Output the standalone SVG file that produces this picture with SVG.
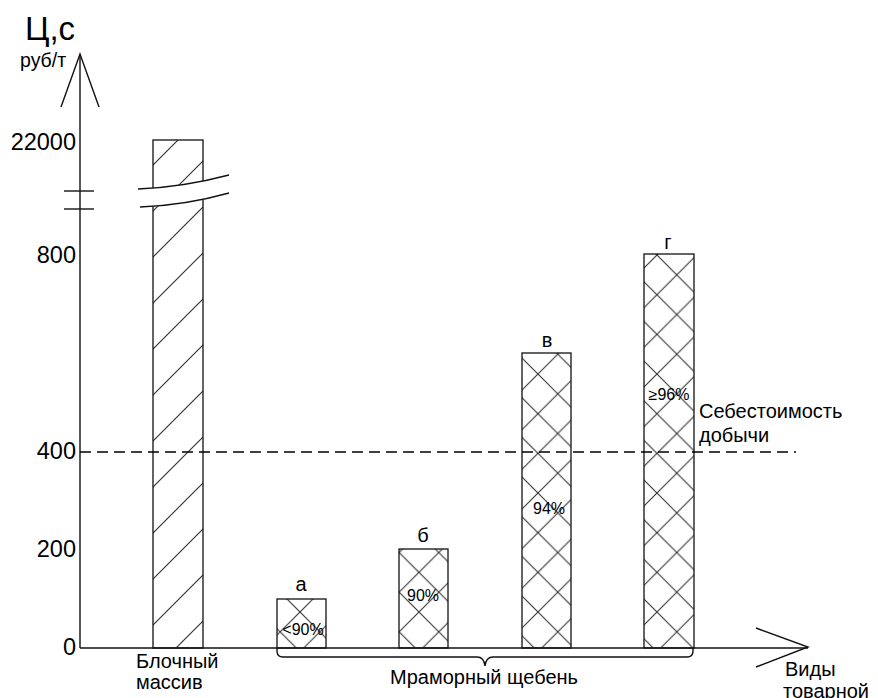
<svg xmlns="http://www.w3.org/2000/svg" width="878" height="698" viewBox="0 0 878 698">
<style>
text{font-family:"Liberation Sans",Arial,sans-serif;fill:#000}
.ax{stroke:#111;stroke-width:1.4;fill:none}
.bar{stroke:#111;stroke-width:1.3}
.pct{font-size:16px;text-anchor:middle}
.lbl{font-size:20px;text-anchor:middle}
.tick{font-size:23.5px;text-anchor:end}
.cap{font-size:20px}
</style>
<defs>
<pattern id="hatch" patternUnits="userSpaceOnUse" x="153" y="625" width="46" height="46">
<path d="M0,46 L46,0 M-2,2 L2,-2 M44,48 L48,44" stroke="#333" stroke-width="1.2"/>
</pattern>
<pattern id="cross" patternUnits="userSpaceOnUse" x="300" y="612" width="39.66" height="39.66">
<path d="M0,0 L39.66,39.66 M39.66,0 L0,39.66" stroke="#333" stroke-width="1.1"/>
</pattern>
</defs>
<rect width="878" height="698" fill="#fff"/>

<g id="axis-y">
<line class="ax" x1="80" y1="54" x2="80" y2="648"/>
<polyline class="ax" points="61,107 80,54 99,107" stroke-width="1.2"/>
<line class="ax" x1="64" y1="191" x2="94" y2="191"/>
<line class="ax" x1="64" y1="209" x2="94" y2="209"/>
<text x="25" y="40" font-size="33">Ц,с</text>
<text x="20" y="67" font-size="19.5">руб/т</text>
<text class="tick" x="76" y="150">22000</text>
<text class="tick" x="76" y="263">800</text>
<text class="tick" x="76" y="459">400</text>
<text class="tick" x="76" y="557">200</text>
<text class="tick" x="76" y="655">0</text>
</g>

<g id="axis-x">
<line class="ax" x1="80" y1="648" x2="808" y2="648"/>
<polyline class="ax" points="756,628 808,647 756,667" stroke-width="1.2"/>
<text class="cap" x="785" y="676">Виды</text>
<text class="cap" x="783" y="698">товарной</text>
</g>

<g id="bar-block">
<rect class="bar" x="153" y="140" width="50" height="508" fill="url(#hatch)"/>
<path d="M136,189 C165,188 195,184 231,174 L231,193 C197,202 167,206 138,207 Z" fill="#fff"/>
<path class="ax" d="M138,189 C165,188 195,184 229,175"/>
<path class="ax" d="M140,207 C167,206 197,202 229,193"/>
<text class="cap" x="136" y="668">Блочный</text>
<text class="cap" x="136" y="689">массив</text>
</g>

<g id="bar-a">
<rect class="bar" x="277" y="599" width="49" height="49" fill="url(#cross)"/>
<text class="lbl" x="301" y="591">а</text>
<text class="pct" x="303" y="635">&lt;90%</text>
</g>

<g id="bar-b">
<rect class="bar" x="399" y="549" width="49" height="99" fill="url(#cross)"/>
<text class="lbl" x="423" y="542">б</text>
<text class="pct" x="423" y="601">90%</text>
</g>

<g id="bar-v">
<rect class="bar" x="522" y="353" width="49" height="295" fill="url(#cross)"/>
<text class="lbl" x="547" y="347">в</text>
<text class="pct" x="549" y="514">94%</text>
</g>

<g id="bar-g">
<rect class="bar" x="644" y="254" width="50" height="394" fill="url(#cross)"/>
<text class="lbl" x="668" y="249">г</text>
<text class="pct" x="669" y="400">≥96%</text>
</g>

<g id="connectors">
<line x1="80" y1="452" x2="796" y2="452" stroke="#000" stroke-width="1.3" stroke-dasharray="11,6"/>
<path class="ax" stroke-width="1.2" d="M277,648 V651 Q277,657 283,657 H477 Q484,657 485,666 Q486,657 493,657 H687 Q693,657 693,651 V648"/>
</g>

<g id="cost-label">
<text class="cap" x="699" y="418">Себестоимость</text>
<text class="cap" x="699" y="442">добычи</text>
</g>

<g id="group-label">
<text class="cap" x="390" y="684">Мраморный щебень</text>
</g>
</svg>
